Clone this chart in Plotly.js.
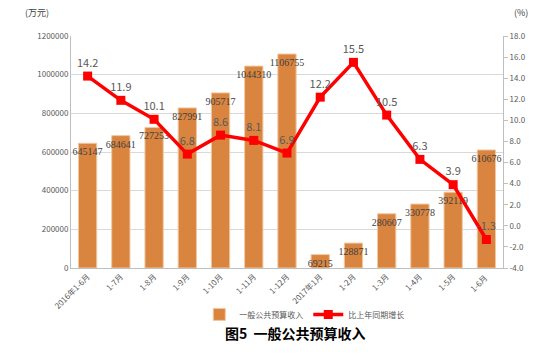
<!DOCTYPE html>
<html><head><meta charset="utf-8">
<script src="https://cdn.plot.ly/plotly-3.0.1.min.js"></script>
<style>body{margin:0}#c{width:550px;height:359px}</style>
</head><body><div id="c"></div>
<script>
const categories = ["2016年1-6月","1-7月","1-8月","1-9月","1-10月","1-11月","1-12月","2017年1月","1-2月","1-3月","1-4月","1-5月","1-6月 "];
const revenue = [645147,684641,727253,827991,905717,1044310,1106755,69215,128871,280607,330778,392119,610676];
const growth = [14.2,11.9,10.1,6.8,8.6,8.1,6.9,12.2,15.5,10.5,6.3,3.9,-1.3];
const leftTicks = [0,200000,400000,600000,800000,1000000,1200000];
const rightTicks = [-4,-2,0,2,4,6,8,10,12,14,16,18];

const F = "'Noto Sans CJK SC', 'DejaVu Sans', sans-serif";
const traces = [
  {type:'bar', x:categories, y:revenue, name:'一般公共预算收入',
   marker:{color:'#D9843F', line:{color:'#F0C8A0', width:1}},
   text:revenue.map(String), textposition:'inside', insidetextanchor:'end',
   constraintext:'none', textangle:0, cliponaxis:false,
   insidetextfont:{family:"'Liberation Serif', serif", size:10, color:'#404040'}, hoverinfo:'none'},
  {type:'scatter', mode:'lines+markers+text', x:categories, y:growth, yaxis:'y2',
   name:'比上年同期增长',
   line:{color:'#FF0000', width:3.5}, marker:{symbol:'square', size:9, color:'#FF0000'},
   text:growth.map(v=>v.toFixed(1)), textposition:'top center',
   textfont:{family:F, size:11, color:'#595959'}, cliponaxis:false, hoverinfo:'none'}
];
const layout = {
  width:550, height:359, margin:{l:71, r:47, t:36, b:91},
  paper_bgcolor:'#fff', plot_bgcolor:'#fff', bargap:0.45, showlegend:true,
  font:{family:F, size:8, color:'#595959'},
  xaxis:{type:'category', range:[-0.5, categories.length-0.5], autorange:false,
         tickangle:-45, tickfont:{size:8, color:'#595959'}, automargin:false,
         showline:true, linecolor:'#BFBFBF', linewidth:1, ticks:'', showgrid:false},
  yaxis:{range:[0,1200000], tickvals:leftTicks, ticktext:leftTicks.map(String), automargin:false,
         gridcolor:'#D9D9D9', gridwidth:1, showline:true, linecolor:'#BFBFBF',
         zeroline:false, tickfont:{size:8, color:'#595959'}, ticks:'', ticklen:0},
  yaxis2:{overlaying:'y', side:'right', range:[-4,18], tickvals:rightTicks, automargin:false,
          ticktext:rightTicks.map(v=>v.toFixed(1)), showgrid:false, zeroline:false,
          showline:true, linecolor:'#BFBFBF', ticks:'outside', ticklen:4, tickcolor:'#BFBFBF',
          tickfont:{size:8, color:'#595959'}},
  legend:{orientation:'h', x:0.54, xanchor:'center', y:-0.2, yanchor:'middle',
          font:{size:8, color:'#595959'}, bgcolor:'rgba(0,0,0,0)'},
  annotations:[
    {text:'(万元)', xref:'paper', yref:'paper', x:-0.11, y:1.1, xanchor:'left', yanchor:'middle', showarrow:false, font:{size:9, color:'#404040'}},
    {text:'(%)', xref:'paper', yref:'paper', x:1.02, y:1.1, xanchor:'left', yanchor:'middle', showarrow:false, font:{size:9, color:'#404040'}},
    {text:'<b>图5  一般公共预算收入</b>', xref:'paper', yref:'paper', x:0.52, y:-0.28, xanchor:'center', yanchor:'middle', showarrow:false, font:{size:14, color:'#000'}}
  ]
};
Plotly.newPlot('c', traces, layout, {displayModeBar:false, staticPlot:true});
</script></body></html>
